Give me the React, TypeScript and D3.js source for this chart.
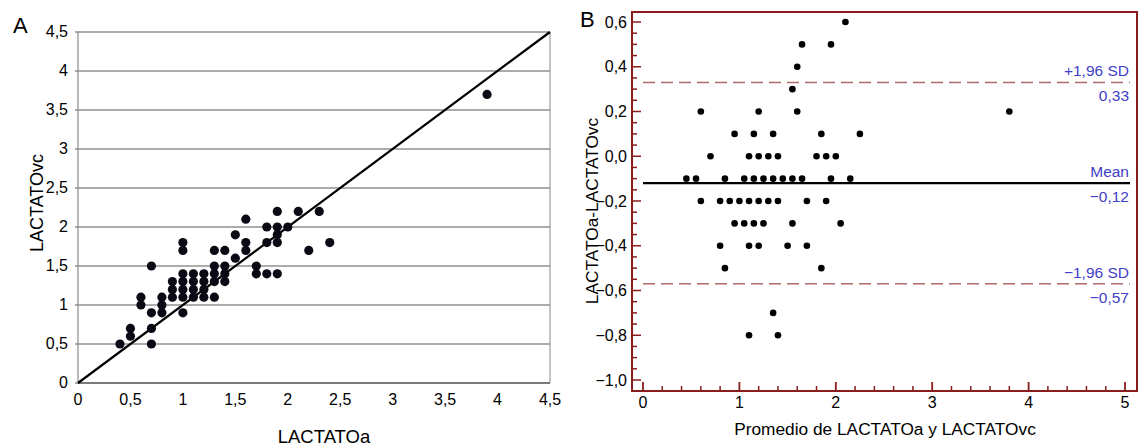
import React from 'react';
import * as d3 from 'd3';

// Panel A: arterial vs central venous lactate
const lactatoA = [
  0.4, 0.5, 0.5, 0.6, 0.6, 0.7, 0.7, 0.7, 0.7, 0.8, 0.8, 0.8, 0.9, 0.9, 0.9,
  1.0, 1.0, 1.0, 1.0, 1.0, 1.0, 1.0, 1.1, 1.1, 1.1, 1.1, 1.2, 1.2, 1.2, 1.2,
  1.3, 1.3, 1.3, 1.3, 1.3, 1.4, 1.4, 1.4, 1.4, 1.5, 1.5, 1.6, 1.6, 1.6, 1.7, 1.7,
  1.8, 1.8, 1.8, 1.9, 1.9, 1.9, 1.9, 1.9, 2.0, 2.1, 2.2, 2.3, 2.4, 3.9,
];
const lactatoVc = [
  0.5, 0.7, 0.6, 1.1, 1.0, 1.5, 0.9, 0.7, 0.5, 1.1, 1.0, 0.9, 1.3, 1.2, 1.1,
  1.8, 1.7, 1.4, 1.3, 1.2, 1.1, 0.9, 1.4, 1.3, 1.2, 1.1, 1.4, 1.3, 1.2, 1.1,
  1.7, 1.5, 1.4, 1.3, 1.1, 1.7, 1.5, 1.4, 1.3, 1.9, 1.6, 2.1, 1.8, 1.7, 1.5, 1.4,
  2.0, 1.8, 1.4, 2.2, 2.0, 1.9, 1.8, 1.4, 2.0, 2.2, 1.7, 2.2, 1.8, 3.7,
];
const ticksA = [0, 0.5, 1, 1.5, 2, 2.5, 3, 3.5, 4, 4.5];

// Panel B: Bland-Altman
const baMean = [
  2.1,
  1.65, 1.95,
  1.6,
  1.55,
  0.6, 1.2, 1.6, 3.8,
  0.95, 1.15, 1.35, 1.85, 2.25,
  0.7, 1.1, 1.2, 1.3, 1.4, 1.8, 1.9, 2.0,
  0.45, 0.55, 0.85, 1.05, 1.15, 1.25, 1.35, 1.45, 1.55, 1.65, 1.95, 2.15,
  0.6, 0.8, 0.9, 1.0, 1.1, 1.2, 1.3, 1.4, 1.7, 1.9,
  0.95, 1.05, 1.15, 1.25, 1.55, 2.05,
  0.8, 1.1, 1.2, 1.5, 1.7,
  0.85, 1.85,
  1.35,
  1.1, 1.4,
];
const baDiff = [
  0.6,
  0.5, 0.5,
  0.4,
  0.3,
  0.2, 0.2, 0.2, 0.2,
  0.1, 0.1, 0.1, 0.1, 0.1,
  0, 0, 0, 0, 0, 0, 0, 0,
  -0.1, -0.1, -0.1, -0.1, -0.1, -0.1, -0.1, -0.1, -0.1, -0.1, -0.1, -0.1,
  -0.2, -0.2, -0.2, -0.2, -0.2, -0.2, -0.2, -0.2, -0.2, -0.2,
  -0.3, -0.3, -0.3, -0.3, -0.3, -0.3,
  -0.4, -0.4, -0.4, -0.4, -0.4,
  -0.5, -0.5,
  -0.7,
  -0.8, -0.8,
];
const ticksBx = [0, 1, 2, 3, 4, 5];
const ticksBy = [0.6, 0.4, 0.2, 0, -0.2, -0.4, -0.6, -0.8, -1.0];
const limits = [
  { value: 0.33, name: '+1,96 SD', label: '0,33', dashed: true },
  { value: -0.12, name: 'Mean', label: '\u22120,12', dashed: false },
  { value: -0.57, name: '\u22121,96 SD', label: '\u22120,57', dashed: true },
];

const FONT = '"Liberation Sans", Arial, Helvetica, sans-serif';
const fmt = (v: number, d: number) => {
  const s = Math.abs(v).toFixed(d).replace('.', ',');
  return v < 0 ? '\u2212' + s : s;
};
const fmtA = (v: number) => (Number.isInteger(v) ? String(v) : String(v).replace('.', ','));

const App = () => {
  // Panel A scales
  const xA = d3.scaleLinear().domain([0, 4.5]).range([78, 550]);
  const yA = d3.scaleLinear().domain([0, 4.5]).range([383, 32]);

  // Panel B scales
  const xB = d3.scaleLinear().domain([0, 5]).range([643, 1125]);
  const yB = d3.scaleLinear().domain([-1.0, 0.6]).range([380, 22]);
  const frame = { left: 632, right: 1137, top: 12, bottom: 391 };
  const red = '#8a1c1c';
  const blue = '#4040c8';

  const minorX = d3.range(0, 5.01, 0.2).filter((v) => Math.abs(v - Math.round(v)) > 0.01);
  const minorY = d3.range(-1.0, 0.64, 0.05).map((v) => Math.round(v * 100) / 100);

  return (
    <div style={{ position: 'absolute', left: 0, top: 0 }}>
      <svg width={1145} height={448} style={{ display: 'block', background: '#fff' }} fontFamily={FONT}>
        {/* ---------- Panel A ---------- */}
        <text x={13} y={33} fontSize={22}>A</text>
        {ticksA.map((t) => (
          <line key={'ga' + t} x1={xA(0) - 3} x2={xA(4.5)} y1={yA(t)} y2={yA(t)} stroke="#5a5a5a" strokeWidth={1.1} />
        ))}
        <line x1={xA(0)} x2={xA(0)} y1={yA(0)} y2={yA(4.5)} stroke="#8a8a8a" strokeWidth={1.2} />
        <line x1={xA(4.5)} x2={xA(4.5)} y1={yA(0)} y2={yA(4.5)} stroke="#8a8a8a" strokeWidth={1} />
        <line x1={xA(0)} x2={xA(4.5)} y1={yA(0)} y2={yA(0)} stroke="#6a6a6a" strokeWidth={1.3} />
        {ticksA.map((t) => (
          <text key={'ya' + t} x={68} y={yA(t) + 5} fontSize={16} textAnchor="end">{fmtA(t)}</text>
        ))}
        {ticksA.map((t) => (
          <text key={'xa' + t} x={xA(t)} y={405} fontSize={16} textAnchor="middle">{fmtA(t)}</text>
        ))}
        <line x1={xA(0)} y1={yA(0)} x2={xA(4.5)} y2={yA(4.5)} stroke="#000" strokeWidth={2.2} />
        {lactatoA.map((a, i) => (
          <circle key={'pa' + i} cx={xA(a)} cy={yA(lactatoVc[i])} r={4.6} fill="#0a0a14" />
        ))}
        <text x={324} y={443} fontSize={18.5} textAnchor="middle">LACTATOa</text>
        <text transform="translate(43,203) rotate(-90)" fontSize={18} textAnchor="middle">LACTATOvc</text>

        {/* ---------- Panel B ---------- */}
        <text x={580} y={27} fontSize={22}>B</text>
        {minorY.map((v) => {
          const major = Math.abs(v * 5 - Math.round(v * 5)) < 0.001;
          return (
            <line key={'ty' + v} x1={frame.left} x2={frame.left + (major ? 9 : 5)} y1={yB(v)} y2={yB(v)} stroke={red} strokeWidth={1.5} />
          );
        })}
        {ticksBx.map((t) => (
          <line key={'tx' + t} x1={xB(t)} x2={xB(t)} y1={frame.bottom} y2={frame.bottom - 9} stroke={red} strokeWidth={1.8} />
        ))}
        {minorX.map((t) => (
          <line key={'mx' + t} x1={xB(t)} x2={xB(t)} y1={frame.bottom} y2={frame.bottom - 5} stroke={red} strokeWidth={1.5} />
        ))}
        <rect x={frame.left} y={frame.top} width={frame.right - frame.left} height={frame.bottom - frame.top} fill="none" stroke={red} strokeWidth={2} />
        {ticksBy.map((t) => (
          <text key={'yb' + t} x={627} y={yB(t) + 5.5} fontSize={16} textAnchor="end">{fmt(t, 1)}</text>
        ))}
        {ticksBx.map((t) => (
          <text key={'xb' + t} x={xB(t)} y={408} fontSize={16} textAnchor="middle">{t}</text>
        ))}
        {limits.map((l) => (
          <g key={l.name}>
            <line
              x1={xB(0)}
              x2={1130}
              y1={yB(l.value)}
              y2={yB(l.value)}
              stroke={l.dashed ? '#b06a6a' : '#000'}
              strokeWidth={l.dashed ? 1.5 : 2.2}
              strokeDasharray={l.dashed ? '12 6' : undefined}
            />
            <text x={1129} y={yB(l.value) - 6} fontSize={15.5} textAnchor="end" fill={blue}>{l.name}</text>
            <text x={1129} y={yB(l.value) + 19} fontSize={15.5} textAnchor="end" fill={blue}>{l.label}</text>
          </g>
        ))}
        {baMean.map((m, i) => (
          <circle key={'pb' + i} cx={xB(m)} cy={yB(baDiff[i])} r={3.3} fill="#000" />
        ))}
        <text x={885} y={435} fontSize={17.3} textAnchor="middle">Promedio de LACTATOa y LACTATOvc</text>
        <text transform="translate(598,211) rotate(-90)" fontSize={17.3} textAnchor="middle">LACTATOa-LACTATOvc</text>
      </svg>
    </div>
  );
};

export default App;
